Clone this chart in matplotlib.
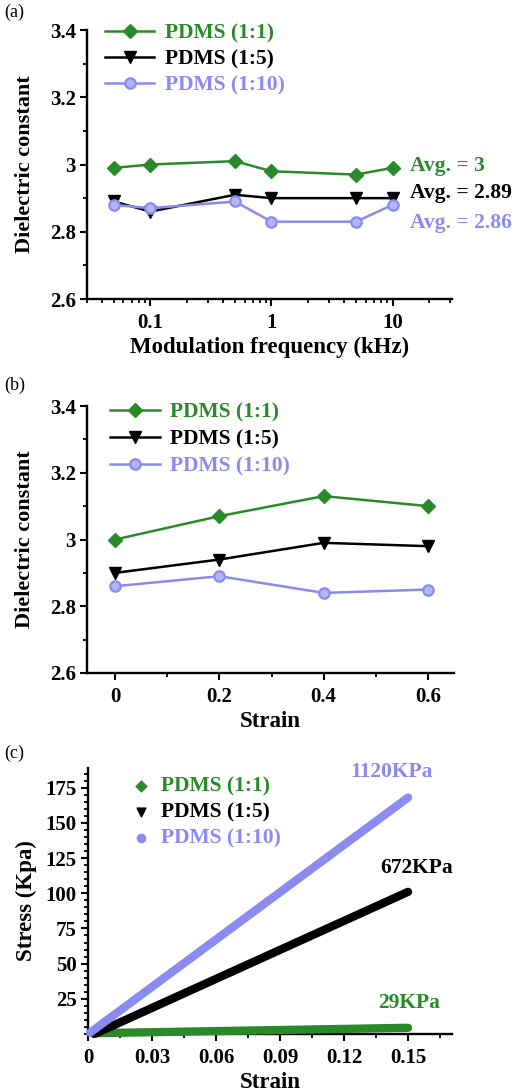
import matplotlib
matplotlib.use("Agg")
import matplotlib.pyplot as plt
from matplotlib.ticker import FixedLocator, MultipleLocator, NullFormatter, LogLocator, FixedFormatter

plt.rcParams['font.family'] = ['Liberation Serif', 'DejaVu Serif']
plt.rcParams['font.weight'] = 'bold'
plt.rcParams['axes.labelweight'] = 'bold'

# ---------------- data ----------------
series_names = ["PDMS (1:1)", "PDMS (1:5)", "PDMS (1:10)"]

# (a) dielectric constant vs modulation frequency
freq_khz = [0.05, 0.1, 0.5, 1, 5, 10]
dk_freq_11 = [2.99, 3.00, 3.01, 2.98, 2.97, 2.99]
dk_freq_15 = [2.89, 2.86, 2.91, 2.90, 2.90, 2.90]
dk_freq_110 = [2.88, 2.87, 2.89, 2.83, 2.83, 2.88]
avg_labels = ["Avg. = 3", "Avg. = 2.89", "Avg. = 2.86"]

# (b) dielectric constant vs strain
strain_b = [0, 0.2, 0.4, 0.6]
dk_strain_11 = [3.00, 3.07, 3.13, 3.10]
dk_strain_15 = [2.90, 2.94, 2.99, 2.98]
dk_strain_110 = [2.86, 2.89, 2.84, 2.85]

# (c) stress-strain (linear responses: start and end points)
strain_c_11 = [0.004, 0.15]
stress_c_11 = [0.6, 4.4]
strain_c_15 = [0.003, 0.15]
stress_c_15 = [0.0, 101]
strain_c_110 = [0.001, 0.15]
stress_c_110 = [1.0, 168]
modulus_labels = ["29KPa", "672KPa", "1120KPa"]

# ---------------- styles ----------------
GREEN = '#2a8a2a'
BLACK = '#000000'
BLUE = '#8a8af0'
BLUE_FACE = '#b4b4fa'
colors = [GREEN, BLACK, BLUE]

fig = plt.figure(figsize=(5.15, 10.91), dpi=100)
W, H = 515.0, 1091.0


def axes_px(left, top, right, bottom):
    return fig.add_axes([left / W, 1 - bottom / H, (right - left) / W, (bottom - top) / H])


def style_axes(ax):
    for s in ['top', 'right']:
        ax.spines[s].set_visible(False)
    for s in ['left', 'bottom']:
        ax.spines[s].set_linewidth(1.7)
    ax.tick_params(which='major', direction='out', length=5, width=1.5, labelsize=15)
    ax.tick_params(which='minor', direction='out', length=3, width=1.3)
    ax.tick_params(axis='x', pad=5)
    ax.tick_params(axis='y', pad=3)


def dk_yaxis(ax):
    ax.set_ylim(2.6, 3.4)
    ax.yaxis.set_major_locator(FixedLocator([2.6, 2.8, 3.0, 3.2, 3.4]))
    ax.yaxis.set_major_formatter(FixedFormatter(["2.6", "2.8", "3", "3.2", "3.4"]))
    ax.yaxis.set_minor_locator(MultipleLocator(0.1))
    ax.set_ylabel("Dielectric constant", fontsize=16, labelpad=11)


def line_plot(ax, x, ys):
    kw = [dict(marker='D', ms=7.5, mfc=GREEN, mec=GREEN),
          dict(marker='v', ms=8, mfc=BLACK, mec=BLACK),
          dict(marker='o', ms=7.5, mfc=BLUE_FACE, mec=BLUE, mew=1.6)]
    for y, c, k, name in zip(ys, colors, kw, series_names):
        ax.plot(x, y, color=c, lw=1.8, label=name, **k)


# ---------- (a) ----------
axa = axes_px(87, 30, 452, 299)
style_axes(axa)
line_plot(axa, freq_khz, [dk_freq_11, dk_freq_15, dk_freq_110])
axa.set_xscale('log')
axa.set_xlim(0.030, 31)
axa.xaxis.set_major_locator(FixedLocator([0.1, 1, 10]))
axa.xaxis.set_major_formatter(FixedFormatter(["0.1", "1", "10"]))
axa.xaxis.set_minor_locator(LogLocator(base=10, subs=range(2, 10)))
axa.xaxis.set_minor_formatter(NullFormatter())
dk_yaxis(axa)
axa.set_xlabel("Modulation frequency (kHz)", fontsize=16.5, labelpad=3)
axa.legend(loc='upper left', bbox_to_anchor=(0.049, 1.025), frameon=False,
           fontsize=15.5, labelcolor='linecolor', handlelength=2.3,
           handletextpad=0.5, labelspacing=0.27, borderpad=0, borderaxespad=0)
for txt, c, yf in zip(avg_labels, colors, [0.494, 0.394, 0.283]):
    axa.text(0.885, yf, txt, transform=axa.transAxes, color=c, fontsize=15.5,
             ha='left', va='center', clip_on=False)

# ---------- (b) ----------
axb = axes_px(87, 406, 454, 673)
style_axes(axb)
line_plot(axb, strain_b, [dk_strain_11, dk_strain_15, dk_strain_110])
axb.set_xlim(-0.054, 0.65)
axb.xaxis.set_major_locator(FixedLocator([0, 0.2, 0.4, 0.6]))
axb.xaxis.set_major_formatter(FixedFormatter(["0", "0.2", "0.4", "0.6"]))
axb.xaxis.set_minor_locator(FixedLocator([0.1, 0.3, 0.5]))
dk_yaxis(axb)
axb.set_xlabel("Strain", fontsize=16.5, labelpad=3)
axb.legend(loc='upper left', bbox_to_anchor=(0.063, 1.013), frameon=False,
           fontsize=15.5, labelcolor='linecolor', handlelength=2.3,
           handletextpad=0.5, labelspacing=0.32, borderpad=0, borderaxespad=0)

# ---------- (c) ----------
axc = axes_px(88, 768, 452, 1034)
style_axes(axc)
band_lw = 6
axc.plot(strain_c_11, stress_c_11, color=GREEN, lw=band_lw, solid_capstyle='round', clip_on=False, zorder=3)
axc.plot(strain_c_15, stress_c_15, color=BLACK, lw=band_lw, solid_capstyle='round', clip_on=False, zorder=3)
axc.plot(strain_c_110, stress_c_110, color=BLUE, lw=band_lw, solid_capstyle='round', clip_on=False, zorder=3)
# legend proxies (markers only)
axc.scatter([], [], marker='D', s=30, color=GREEN, label=series_names[0])
axc.scatter([], [], marker='v', s=40, color=BLACK, label=series_names[1])
axc.scatter([], [], marker='o', s=35, color=BLUE, label=series_names[2])
axc.set_xlim(0, 0.1706)
axc.set_ylim(0, 189)
axc.xaxis.set_major_locator(FixedLocator([0, 0.03, 0.06, 0.09, 0.12, 0.15]))
axc.xaxis.set_major_formatter(FixedFormatter(["0", "0.03", "0.06", "0.09", "0.12", "0.15"]))
axc.xaxis.set_minor_locator(MultipleLocator(0.015))
axc.yaxis.set_major_locator(FixedLocator([25, 50, 75, 100, 125, 150, 175]))
axc.yaxis.set_major_formatter(FixedFormatter(["25", "50", "75", "100", "125", "150", "175"]))
axc.yaxis.set_minor_locator(MultipleLocator(5))
axc.set_xlabel("Strain", fontsize=16.5, labelpad=3)
axc.set_ylabel("Stress (Kpa)", fontsize=16.5, labelpad=6)
axc.legend(loc='upper left', bbox_to_anchor=(0.117, 0.968), frameon=False,
           fontsize=15.5, labelcolor='linecolor', handlelength=1.0,
           handletextpad=0.4, labelspacing=0.27, borderpad=0, borderaxespad=0,
           scatterpoints=1)
for txt, c, (xf, yf) in zip(modulus_labels, colors, [(0.797, 0.117), (0.802, 0.624), (0.72, 0.985)]):
    axc.text(xf, yf, txt, transform=axc.transAxes, color=c, fontsize=15.5,
             ha='left', va='center', clip_on=False)

# panel labels
for lab, ypx in [("(a)", 12), ("(b)", 385), ("(c)", 753)]:
    fig.text(4 / W, 1 - ypx / H, lab, fontsize=13, fontweight='normal', ha='left', va='center')

fig.savefig("out.png", dpi=100)
